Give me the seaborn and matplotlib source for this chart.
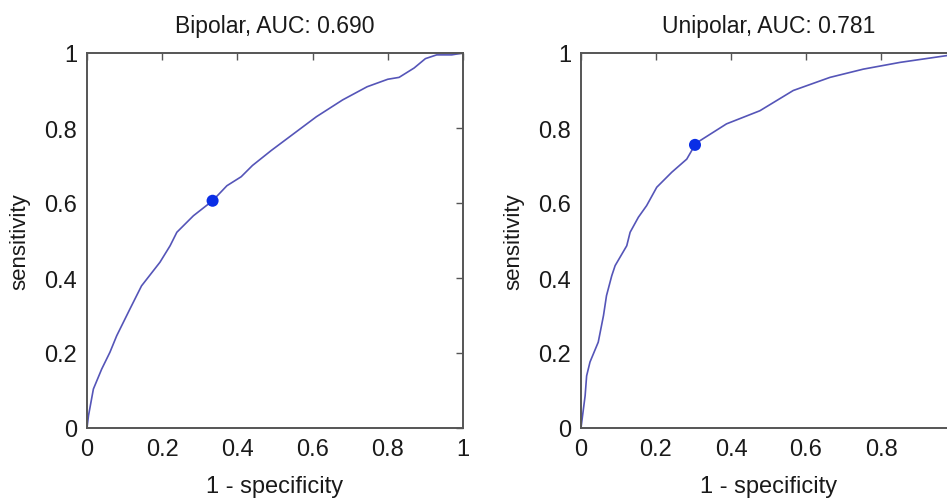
import numpy as np
import pandas as pd
import matplotlib
matplotlib.use('Agg')
import matplotlib.pyplot as plt
import seaborn as sns

sns.set_style('white')
plt.rcParams['font.family'] = ['Liberation Sans', 'DejaVu Sans']

# ROC curves
bipolar_fpr = [0, 0.004, 0.017, 0.039, 0.061, 0.079, 0.114, 0.145, 0.194, 0.221, 0.239, 0.283,
               0.334, 0.372, 0.41, 0.44, 0.49, 0.53, 0.57, 0.61, 0.68, 0.745, 0.8, 0.83, 0.87,
               0.90, 0.93, 0.97, 1.0]
bipolar_tpr = [0, 0.033, 0.104, 0.157, 0.202, 0.246, 0.317, 0.379, 0.442, 0.486, 0.522, 0.566,
               0.606, 0.646, 0.67, 0.70, 0.74, 0.77, 0.80, 0.83, 0.875, 0.91, 0.93, 0.935, 0.96,
               0.985, 0.995, 0.995, 1.0]
bipolar_point = (0.334, 0.606)

unipolar_fpr = [0, 0.002, 0.011, 0.015, 0.024, 0.046, 0.06, 0.068, 0.082, 0.091, 0.122, 0.131,
                0.153, 0.175, 0.202, 0.242, 0.282, 0.304, 0.317, 0.388, 0.477, 0.566, 0.664,
                0.753, 0.851, 0.975, 1.0]
unipolar_tpr = [0, 0.016, 0.086, 0.139, 0.176, 0.229, 0.30, 0.353, 0.406, 0.433, 0.486, 0.522,
                0.562, 0.593, 0.642, 0.682, 0.717, 0.755, 0.766, 0.811, 0.846, 0.90, 0.935,
                0.957, 0.975, 0.993, 1.0]
unipolar_point = (0.304, 0.755)

titles = ['Bipolar, AUC: 0.690', 'Unipolar, AUC: 0.781']
ticks = [0, 0.2, 0.4, 0.6, 0.8, 1]
tick_labels = ['0', '0.2', '0.4', '0.6', '0.8', '1']

fig = plt.figure(figsize=(9.47, 5.02), dpi=100)
ax1 = fig.add_axes([87 / 947, 73 / 502, 376 / 947, 375 / 502])
ax2 = fig.add_axes([581 / 947, 73 / 502, 375 / 947, 375 / 502])

curves = [(bipolar_fpr, bipolar_tpr, bipolar_point), (unipolar_fpr, unipolar_tpr, unipolar_point)]
for i, (ax, (fpr, tpr, pt), title) in enumerate(zip([ax1, ax2], curves, titles)):
    df = pd.DataFrame({'fpr': fpr, 'tpr': tpr})
    sns.lineplot(data=df, x='fpr', y='tpr', sort=False, estimator=None,
                 color='#5555b8', linewidth=1.2, ax=ax)
    sns.scatterplot(x=[pt[0]], y=[pt[1]], color='#0a2ee6', s=75, edgecolor='none',
                    ax=ax, zorder=5)
    ax.set_xlim(0, 1)
    ax.set_ylim(0, 1)
    ax.set_xticks(ticks)
    ax.set_yticks(ticks)
    # the right panel runs past the picture's edge, so its last x label is not shown
    xl = tick_labels if i == 0 else tick_labels[:-1] + ['']
    ax.set_xticklabels(xl)
    ax.set_yticklabels(tick_labels)
    ax.tick_params(direction='in', length=5, width=1, colors='#555555',
                   labelcolor='#1a1a1a', labelsize=17, top=True, right=True, pad=7)
    for s in ax.spines.values():
        s.set_color('#555555')
        s.set_linewidth(1.4)
    ax.set_title(title, fontsize=16.5, color='#1a1a1a', pad=15)
    ax.set_xlabel('1 - specificity', fontsize=17, color='#1a1a1a', labelpad=11)
    ax.set_ylabel('sensitivity', fontsize=16, color='#1a1a1a', labelpad=10)

fig.savefig('out.png', dpi=100)
